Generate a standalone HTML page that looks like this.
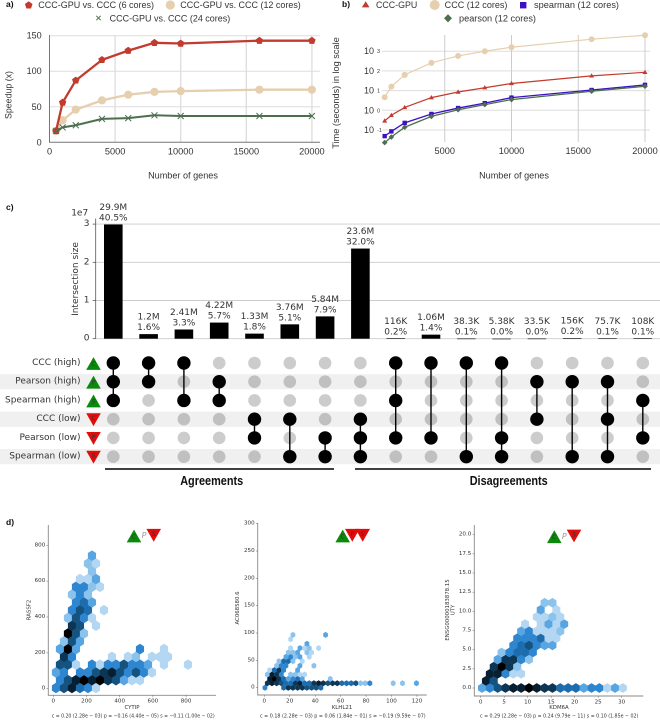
<!DOCTYPE html>
<html lang="en">
<head>
<meta charset="utf-8">
<title>CCC-GPU benchmark figure</title>
<style>
html,body{margin:0;padding:0;background:#fff;width:660px;height:720px;overflow:hidden}
svg{display:block;filter:blur(0.35px)}
text{font-family:"Liberation Sans",sans-serif;fill:#333;dominant-baseline:central}
.dv text,text.dv{font-family:"DejaVu Sans",sans-serif}
.bold{font-weight:bold;fill:#111;font-size:8.5px}
</style>
</head>
<body>
<svg id="fig" xmlns="http://www.w3.org/2000/svg" width="660" height="720" viewBox="0 0 660 720">
  <rect x="0" y="0" width="660" height="720" fill="#fff"/>
  <g id="stripes"></g>
  <text class="bold" x="6" y="4">a)</text>
  <text class="bold" x="342" y="4">b)</text>
  <text class="bold" x="6" y="207">c)</text>
  <text class="bold" x="6" y="522">d)</text>

  <g font-size="8.8">
    <polygon points="28.7,1.2 32.5,4 31,8.5 26.4,8.5 24.9,4" fill="#c23b2e"/>
    <text x="38.3" y="5" textLength="115.7" lengthAdjust="spacingAndGlyphs">CCC-GPU vs. CCC (6 cores)</text>
    <circle cx="170.3" cy="5" r="4.6" fill="#e5cfae"/>
    <text x="180.3" y="5" textLength="120.5" lengthAdjust="spacingAndGlyphs">CCC-GPU vs. CCC (12 cores)</text>
    <path d="M96.3 15.8l4.4 4.4M100.7 15.8l-4.4 4.4" stroke="#4c6f50" stroke-width="1" fill="none"/>
    <text x="109.7" y="18.3" textLength="120.5" lengthAdjust="spacingAndGlyphs">CCC-GPU vs. CCC (24 cores)</text>
  </g>
  <g font-size="8.8">
    <polygon points="365.7,1.2 369.5,7.4 361.9,7.4" fill="#c23b2e"/>
    <text x="376" y="5" textLength="41.3" lengthAdjust="spacingAndGlyphs">CCC-GPU</text>
    <circle cx="434.7" cy="5" r="5" fill="#e5cfae"/>
    <text x="444.7" y="5" textLength="62.7" lengthAdjust="spacingAndGlyphs">CCC (12 cores)</text>
    <rect x="520" y="2" width="6.4" height="6.4" fill="#3d10c4"/>
    <text x="534" y="5" textLength="85" lengthAdjust="spacingAndGlyphs">spearman (12 cores)</text>
    <polygon points="448,14.2 452,18.3 448,22.4 444,18.3" fill="#4c6f50"/>
    <text x="459" y="18.3" textLength="77" lengthAdjust="spacingAndGlyphs">pearson (12 cores)</text>
  </g>
  <g id="panelA"></g>
  <g id="panelB"></g>
  <g id="panelC" class="dv"></g>
  <g id="panelD" class="dv"></g>

  <path d="M105 469H334" stroke="#000" stroke-width="1.5"/>
  <path d="M355 469H651" stroke="#000" stroke-width="1.5"/>
  <text x="180.2" y="480.7" font-size="13" font-weight="bold" textLength="63" lengthAdjust="spacingAndGlyphs" style="fill:#111;font-family:'Liberation Sans Narrow','Liberation Sans',sans-serif">Agreements</text>
  <text x="469.7" y="480.7" font-size="13" font-weight="bold" textLength="78" lengthAdjust="spacingAndGlyphs" style="fill:#111;font-family:'Liberation Sans Narrow','Liberation Sans',sans-serif">Disagreements</text>

  <text x="51.7" y="716.7" font-size="5" textLength="163" lengthAdjust="spacingAndGlyphs" class="dv">c = 0.20 (2.28e − 03)   p = −0.16 (4.40e − 05)   s = −0.11 (1.00e − 02)</text>
  <text x="260" y="716.7" font-size="5" textLength="165.7" lengthAdjust="spacingAndGlyphs" class="dv">c = 0.18 (2.28e − 03)   p = 0.06 (1.84e − 01)   s = −0.19 (9.59e − 07)</text>
  <text x="480" y="716.7" font-size="5" textLength="158.3" lengthAdjust="spacingAndGlyphs" class="dv">c = 0.29 (2.28e − 03)   p = 0.24 (9.79e − 11)   s = 0.10 (1.85e − 02)</text>
</svg>
<script>
/* ---------- panel a / b data ---------- */
const geneCounts = [500, 1000, 2000, 4000, 6000, 8000, 10000, 16000, 20000];
const speedup6 = [16, 56, 87, 116, 129, 140, 139, 143, 143];
const speedup12 = [16, 31, 46, 59, 67, 71, 72, 74, 74];
const speedup24 = [16, 21, 24, 33, 34, 38, 37, 37, 37];
const speedupTicks = [0, 50, 100, 150];
const genesTicksA = [0, 5000, 10000, 15000, 20000];
const genesTicksB = [5000, 10000, 15000, 20000];
const timeCccGpu = [0.29, 0.56, 1.4, 4.4, 8.5, 14, 23, 56, 85];
const timeCcc = [4.6, 16, 63, 257, 575, 1000, 1585, 4070, 6450];
const timeSpearman = [0.049, 0.085, 0.23, 0.65, 1.3, 2.3, 4.4, 10.7, 19.5];
const timePearson = [0.023, 0.044, 0.138, 0.49, 1.07, 1.95, 3.5, 9.3, 16.6];
const timeTickExps = [3, 2, 1, 0, -1];

/* ---------- panel c data ---------- */
const setNames = ['CCC (high)', 'Pearson (high)', 'Spearman (high)', 'CCC (low)', 'Pearson (low)', 'Spearman (low)'];
const setLetters = ['C', 'P', 'S', 'C', 'P', 'S'];
const setDirections = ['up', 'up', 'up', 'down', 'down', 'down'];
const intersectionSizes = [29900000, 1200000, 2410000, 4220000, 1330000, 3760000, 5840000, 23600000, 116000, 1060000, 38300, 5380, 33500, 156000, 75700, 108000];
const intersectionValueLabels = ['29.9M', '1.2M', '2.41M', '4.22M', '1.33M', '3.76M', '5.84M', '23.6M', '116K', '1.06M', '38.3K', '5.38K', '33.5K', '156K', '75.7K', '108K'];
const intersectionPctLabels = ['40.5%', '1.6%', '3.3%', '5.7%', '1.8%', '5.1%', '7.9%', '32.0%', '0.2%', '1.4%', '0.1%', '0.0%', '0.0%', '0.2%', '0.1%', '0.1%'];
const intersectionMembers = [[0,1,2],[0,1],[0,2],[1,2],[3,4],[3,5],[4,5],[3,4,5],[0,2,4],[0,4],[0,5],[0,4,5],[1,3],[1,5],[1,3,5],[2,4]];
const sizeTicks = [0, 1, 2, 3];

/* ---------- panel d data: hexbin density per row/column (0 = empty bin) ---------- */
const cytipBinStart = 16, cytipBinStep = 48.2, rassf2BinStart = 4, rassf2BinStep = 43.4;
const cytipCounts = [
 [4,6,8,5,4,1],
 [4,6,8,9,8,9,7,6,3,1,1],
 [3,4,0,4,4,6,7,8,6,4,6,4,1],
 [6,6,1,0,4,1,4,4,6,4,4,3,0,1,0,0,1],
 [0,7,4,0,0,0,0,1,0,1,2,0,1,1,1],
 [3,9,3,0,0,0,0,0,0,0,4,0,0,1],
 [0,2,6,3],
 [0,9,6,2],
 [0,0,7,6,0,1],
 [0,2,6,4,1],
 [0,0,4,6,5,0,1],
 [0,0,4,5,3],
 [0,0,2,4,2],
 [0,0,4,4,2,1],
 [0,0,0,1,1,3],
 [0,0,0,0,2],
 [0,0,0,0,2,1],
 [0,0,0,0,3]
];
const klhl21BinStart = 0.52, klhl21BinStep = 3.665, ac068BinStart = 0, ac068BinStep = 8.05;
const klhl21Counts = [
 [4,0,0,0,5,7,7,7,7,6,6,6,5],
 [7,8,7,6,5,5,7,8,5,5,7,8,7,6,7,7,5,5,5,6,2,2,4,0,0,0,0,2,0,2,0,0,3],
 [0,8,9,7,5,3,4,5,3,0,0,0,0,0,2],
 [2,8,7,4,0,2,2,1,1],
 [0,1,5,7,4,0,0,3],
 [0,0,2,4,4,0,0,3,0,0,2],
 [0,0,0,2,5,5,2,0,1],
 [0,0,0,0,3,4,2,3,0,1],
 [0,0,0,0,0,2,2,3,0,2,1],
 [0,0,0,0,0,1,0,3,1,2,0,1],
 [0,0,0,0,0,0,0,0,0,3],
 [0,0,0,0,0,1],
 [0,0,0,0,0,0,2,0,0,0,0,0,0,3]
];
const kdm6aBinStart = 0.28, kdm6aBinStep = 1.665, utyBinStart = 0, utyBinStep = 0.927;
const kdm6aCounts = [
 [3,4,6,7,8,8,9,8,7,7,5,5,5,3,4,4,1,3,1],
 [8,6],
 [0,8,8,4,1,1],
 [0,7,9,7,2],
 [0,0,3,7,7,4,2],
 [0,0,2,4,5,5,4],
 [0,0,0,0,4,5,6,4,3,3],
 [0,0,0,0,4,4,4,5,1,1],
 [0,0,0,0,0,3,4,1,1,1,2],
 [0,0,0,0,0,1,0,1,3,1,3],
 [0,0,0,0,0,0,0,1,1,2,1],
 [0,0,0,0,0,0,0,3,0,1],
 [0,0,0,0,0,0,0,0,2,2]
];
const cytipTicks = [0, 200, 400, 600, 800];
const rassf2Ticks = [0, 200, 400, 600, 800];
const klhl21Ticks = [0, 20, 40, 60, 80, 100, 120];
const ac068Ticks = [0, 50, 100, 150, 200, 250, 300];
const kdm6aTicks = [0, 5, 10, 15, 20, 25, 30];
const utyTicks = [0, 2.5, 5, 7.5, 10, 12.5, 15, 17.5, 20];

/* ---------- helpers ---------- */
const NS = 'http://www.w3.org/2000/svg';
function mk(parent, tag, attrs, content) {
  const el = document.createElementNS(NS, tag);
  for (const k in attrs) el.setAttribute(k, attrs[k]);
  if (content !== undefined) el.textContent = content;
  parent.appendChild(el);
  return el;
}
function polyPoints(cx, cy, pts) {
  return pts.map(p => (cx + p[0]).toFixed(2) + ',' + (cy + p[1]).toFixed(2)).join(' ');
}
const pentagon = [[0,-3.9],[3.7,-1.2],[2.3,3.2],[-2.3,3.2],[-3.7,-1.2]];

/* ---------- panel a ---------- */
const xA = v => 49.5 + v * 0.01312;
const yA = v => 142.3 - v * 0.7107;
const gA = document.getElementById('panelA');
speedupTicks.forEach(t => {
  if (t > 0) {
    const g = mk(gA, 'line', {x1: xA(0), x2: 320, y1: yA(t), y2: yA(t), stroke: '#ddd', 'stroke-width': 1});
    
    
  }
  const l = mk(gA, 'text', {x: 41.7, y: yA(t), 'text-anchor': 'end', 'font-size': 9}, t);
  
  
});
genesTicksA.forEach(t => {
  if (t > 0) {
    const g = mk(gA, 'line', {x1: xA(t), x2: xA(t), y1: 35, y2: 142.3, stroke: '#ddd', 'stroke-width': 1.3});
    
    
  }
  const l = mk(gA, 'text', {x: xA(t), y: 151.7, 'text-anchor': 'middle', 'font-size': 9.2}, t);
  
  
});
const axAx = mk(gA, 'path', {d: 'M49.5 35V142.3H320', fill: 'none', stroke: '#777', 'stroke-width': 1});


const tA1 = mk(gA, 'text', {x: 183, y: 175.7, 'text-anchor': 'middle', 'font-size': 9.1}, 'Number of genes');


const tA2 = mk(gA, 'text', {x: 0, y: 0, 'text-anchor': 'middle', 'font-size': 8.8, transform: 'translate(8.7 95) rotate(-90)'}, 'Speedup (x)');



const l12 = mk(gA, 'polyline', {points: geneCounts.map((g, i) => xA(g) + ',' + yA(speedup12[i])).join(' '), fill: 'none', stroke: '#e5cfae', 'stroke-width': 2.3});


geneCounts.forEach((g, i) => {
  const m = mk(gA, 'circle', {cx: xA(g), cy: yA(speedup12[i]), r: 4.1, fill: '#e5cfae'});
  
  
});
const l6 = mk(gA, 'polyline', {points: geneCounts.map((g, i) => xA(g) + ',' + yA(speedup6[i])).join(' '), fill: 'none', stroke: '#c23b2e', 'stroke-width': 2.3});


geneCounts.forEach((g, i) => {
  const m = mk(gA, 'polygon', {points: polyPoints(xA(g), yA(speedup6[i]), pentagon), fill: '#c23b2e'});
  
  
});
const l24 = mk(gA, 'polyline', {points: geneCounts.map((g, i) => xA(g) + ',' + yA(speedup24[i])).join(' '), fill: 'none', stroke: '#4c6f50', 'stroke-width': 2});


geneCounts.forEach((g, i) => {
  const x = xA(g), y = yA(speedup24[i]);
  const m = mk(gA, 'path', {d: `M${x-3} ${y-3}L${x+3} ${y+3}M${x+3} ${y-3}L${x-3} ${y+3}`, stroke: '#4c6f50', 'stroke-width': 1, fill: 'none'});
  
  
});

/* ---------- panel b ---------- */
const xB = v => 378 + v * 0.01335;
const yB = v => 110.3 - 19.7 * Math.log10(v);
const gB = document.getElementById('panelB');
timeTickExps.forEach(e => {
  const y = yB(Math.pow(10, e));
  const g = mk(gB, 'line', {x1: 382, x2: 650, y1: y, y2: y, stroke: '#ddd', 'stroke-width': 1});
  
  
  const b = mk(gB, 'text', {x: 364, y: y, 'font-size': 9}, '10');
  
  
  const s = mk(gB, 'text', {x: 377, y: y + 1, 'font-size': 5.5}, e);
  
  
});
genesTicksB.forEach(t => {
  const g = mk(gB, 'line', {x1: xB(t), x2: xB(t), y1: 35, y2: 142, stroke: '#ccc', 'stroke-width': 1});
  
  
  const l = mk(gB, 'text', {x: xB(t), y: 151, 'text-anchor': 'middle', 'font-size': 9.2}, t);
  
  
});
const tB1 = mk(gB, 'text', {x: 514, y: 175.3, 'text-anchor': 'middle', 'font-size': 9.1}, 'Number of genes');


const tB2 = mk(gB, 'text', {x: 0, y: 0, 'text-anchor': 'middle', 'font-size': 9.2, transform: 'translate(336 93) rotate(-90)'}, 'Time (seconds) in log scale');



const lCcc = mk(gB, 'polyline', {points: geneCounts.map((g, i) => xB(g) + ',' + yB(timeCcc[i])).join(' '), fill: 'none', stroke: '#e5cfae', 'stroke-width': 1.2});


geneCounts.forEach((g, i) => {
  const m = mk(gB, 'circle', {cx: xB(g), cy: yB(timeCcc[i]), r: 3, fill: '#e5cfae'});
  
  
});
const lGpu = mk(gB, 'polyline', {points: geneCounts.map((g, i) => xB(g) + ',' + yB(timeCccGpu[i])).join(' '), fill: 'none', stroke: '#c23b2e', 'stroke-width': 1.2});


geneCounts.forEach((g, i) => {
  const m = mk(gB, 'polygon', {points: polyPoints(xB(g), yB(timeCccGpu[i]), [[0,-2.6],[2.5,1.7],[-2.5,1.7]]), fill: '#c23b2e'});
  
  
});
const lSp = mk(gB, 'polyline', {points: geneCounts.map((g, i) => xB(g) + ',' + yB(timeSpearman[i])).join(' '), fill: 'none', stroke: '#3d10c4', 'stroke-width': 1.3});


geneCounts.forEach((g, i) => {
  const m = mk(gB, 'rect', {x: xB(g) - 2.2, y: yB(timeSpearman[i]) - 2.2, width: 4.4, height: 4.4, fill: '#3d10c4'});
  
  
});
const lPe = mk(gB, 'polyline', {points: geneCounts.map((g, i) => xB(g) + ',' + yB(timePearson[i])).join(' '), fill: 'none', stroke: '#4c6f50', 'stroke-width': 1.3});


geneCounts.forEach((g, i) => {
  const m = mk(gB, 'polygon', {points: polyPoints(xB(g), yB(timePearson[i]), [[0,-2.8],[2.8,0],[0,2.8],[-2.8,0]]), fill: '#4c6f50'});
  
  
});

/* ---------- panel c ---------- */
const xC = i => 113.3 + i * 35.3;
const yC = v => 338.7 - v * 38.2 / 1e7;
const rowY = r => 363 + r * 18.73;
const gC = document.getElementById('panelC');
const gS = document.getElementById('stripes');
setNames.forEach((n, r) => {
  if (r % 2 === 1) {
    const s = mk(gS, 'rect', {x: 0, y: rowY(r) - 7.6, width: 660, height: 15.2, fill: '#f0f0f0'});
    
    
  }
});
sizeTicks.forEach(t => {
  const y = yC(t * 1e7);
  const g = mk(gC, 'line', {x1: 95.7, x2: 660, y1: y, y2: y, stroke: '#ccc', 'stroke-width': 0.9});
  
  
  const k = mk(gC, 'line', {x1: 92.7, x2: 95.7, y1: y, y2: y, stroke: '#444', 'stroke-width': 0.7});
  
  
  const l = mk(gC, 'text', {x: 89.5, y: y, 'text-anchor': 'end', 'font-size': 9}, t);
  
  
});
const spC = mk(gC, 'line', {x1: 95.7, x2: 95.7, y1: 218.5, y2: 338.7, stroke: '#555', 'stroke-width': 0.8});


const expC = mk(gC, 'text', {x: 79.7, y: 213.3, 'text-anchor': 'middle', 'font-size': 9}, '1e7');


const tC = mk(gC, 'text', {x: 0, y: 0, 'text-anchor': 'middle', 'font-size': 9, transform: 'translate(76 279) rotate(-90)'}, 'Intersection size');



intersectionSizes.forEach((v, i) => {
  const top = yC(v);
  const b = mk(gC, 'rect', {x: xC(i) - 9.3, y: top, width: 18.6, height: Math.max(0.6, 338.7 - top), fill: '#000'});
  
  
  const l1 = mk(gC, 'text', {x: xC(i), y: top - 16.5, 'text-anchor': 'middle', 'font-size': 9}, intersectionValueLabels[i]);
  
  
  const l2 = mk(gC, 'text', {x: xC(i), y: top - 6, 'text-anchor': 'middle', 'font-size': 9}, intersectionPctLabels[i]);
  
  
  setNames.forEach((n, r) => {
    const d = mk(gC, 'circle', {cx: xC(i), cy: rowY(r), r: 6.3, fill: '#000', 'fill-opacity': 0.2});
    
    
  });
  const mem = intersectionMembers[i];
  const c = mk(gC, 'line', {x1: xC(i), x2: xC(i), y1: rowY(mem[0]), y2: rowY(mem[mem.length - 1]), stroke: '#000', 'stroke-width': 1.4});
  
  
  mem.forEach(r => {
    const d = mk(gC, 'circle', {cx: xC(i), cy: rowY(r), r: 6.7, fill: '#000'});
    
    
  });
});
function triangle(parent, cx, cy, dir, letter, w) {
  const hw = w / 2, hh = w * 0.44;
  const pts = dir === 'up' ? [[0,-hh],[hw,hh],[-hw,hh]] : [[-hw,-hh],[hw,-hh],[0,hh]];
  const t = mk(parent, 'polygon', {points: polyPoints(cx, cy, pts), fill: dir === 'up' ? '#0a8a0a' : '#e00d0d'});
  
  
  const l = mk(parent, 'text', {x: cx, y: cy + (dir === 'up' ? 1 : -1), 'text-anchor': 'middle', 'font-size': 6, 'font-style': 'italic', style: 'fill:#333'}, letter);
  
  
}
setNames.forEach((n, r) => {
  const l = mk(gC, 'text', {x: 80.5, y: rowY(r), 'text-anchor': 'end', 'font-size': 9}, n);
  
  
  triangle(gC, 93.5, rowY(r) + 0.5, setDirections[r], setLetters[r], 14.6);
});

/* ---------- panel d ---------- */
const hexPalette = ['none', '#b3d7f2', '#8cc3ec', '#57a5e2', '#2e86d0', '#1d6cae', '#145280', '#0d3655', '#071f33', '#000000'];
const gD = document.getElementById('panelD');
function hexbin(counts, xS, yS, xStart, xStep, yStart, yStep) {
  const w = Math.abs(xS(xStep) - xS(0)) * 1.02;
  const h = Math.abs(yS(yStep) - yS(0)) * 4 / 3 * 1.02;
  const shape = [[0,-h/2],[w/2,-h/4],[w/2,h/4],[0,h/2],[-w/2,h/4],[-w/2,-h/4]];
  counts.forEach((row, r) => {
    row.forEach((n, k) => {
      if (!n) return;
      const x = xStart + (k + (r % 2) / 2) * xStep;
      const y = yStart + r * yStep;
      const c = mk(gD, 'polygon', {points: polyPoints(xS(x), yS(y), shape), fill: hexPalette[n]});
      
      
    });
  });
}
function hexAxes(xS, yS, xTicks, yTicks, left, right, top, bottom, fmtY) {
  const a = mk(gD, 'path', {d: `M${left} ${top}V${bottom}H${right}`, fill: 'none', stroke: '#888', 'stroke-width': 0.9});
  
  
  xTicks.forEach(t => {
    const k = mk(gD, 'line', {x1: xS(t), x2: xS(t), y1: bottom, y2: bottom + 1.8, stroke: '#666', 'stroke-width': 0.5});
    
    
    const l = mk(gD, 'text', {x: xS(t), y: bottom + 6.3, 'text-anchor': 'middle', 'font-size': 5.6}, t);
    
    
  });
  yTicks.forEach(t => {
    const k = mk(gD, 'line', {x1: left - 1.8, x2: left, y1: yS(t), y2: yS(t), stroke: '#666', 'stroke-width': 0.5});
    
    
    const l = mk(gD, 'text', {x: left - 3, y: yS(t), 'text-anchor': 'end', 'font-size': 5.6}, fmtY ? t.toFixed(1) : t);
    
    
  });
}
function axisTitle(x, y, text, rotate) {
  const attrs = rotate ? {x: 0, y: 0, transform: `translate(${x} ${y}) rotate(-90)`} : {x: x, y: y};
  attrs['text-anchor'] = 'middle';
  attrs['font-size'] = 5.4;
  const t = mk(gD, 'text', attrs, text);
  
  
}
function pLetter(x, y) {
  const p = mk(gD, 'text', {x: x, y: y, 'text-anchor': 'middle', 'font-size': 8, 'font-style': 'italic', style: 'fill:#999'}, 'P');
  
  
}

const xD1 = v => 53.3 + v * 0.166;
const yD1 = v => 688.7 - v * 0.1793;
hexbin(cytipCounts, xD1, yD1, cytipBinStart, cytipBinStep, rassf2BinStart, rassf2BinStep);
hexAxes(xD1, yD1, cytipTicks, rassf2Ticks, 48.3, 216, 525, 695.3, false);
axisTitle(132, 708, 'CYTIP', false);
axisTitle(29.3, 610, 'RASSF2', true);
triangle(gD, 134, 536, 'up', 'C', 14.6);
pLetter(144, 535.7);
triangle(gD, 153.7, 535.3, 'down', 'S', 14.6);

const xD2 = v => 264.3 + v * 1.272;
const yD2 = v => 687.7 - v * 0.5467;
hexbin(klhl21Counts, xD2, yD2, klhl21BinStart, klhl21BinStep, ac068BinStart, ac068BinStep);
hexAxes(xD2, yD2, klhl21Ticks, ac068Ticks, 257.7, 426.7, 523, 695, false);
axisTitle(342, 708, 'KLHL21', false);
axisTitle(238, 608, 'AC068580.6', true);
triangle(gD, 342.7, 536, 'up', 'C', 14.6);
triangle(gD, 352.3, 535.3, 'down', 'P', 14.6);
triangle(gD, 362.7, 535.3, 'down', 'S', 14.6);

const xD3 = v => 480.7 + v * 4.7;
const yD3 = v => 688 - v * 7.665;
hexbin(kdm6aCounts, xD3, yD3, kdm6aBinStart, kdm6aBinStep, utyBinStart, utyBinStep);
hexAxes(xD3, yD3, kdm6aTicks, utyTicks, 474.3, 643.3, 525, 696, true);
axisTitle(559, 708, 'KDM6A', false);
axisTitle(448, 610, 'ENSG00000183878.15', true);
axisTitle(453.7, 610, 'UTY', true);
triangle(gD, 554.3, 536.7, 'up', 'C', 14.6);
pLetter(564.3, 536.7);
triangle(gD, 574, 536, 'down', 'S', 14.6);
</script>
</body>
</html>
